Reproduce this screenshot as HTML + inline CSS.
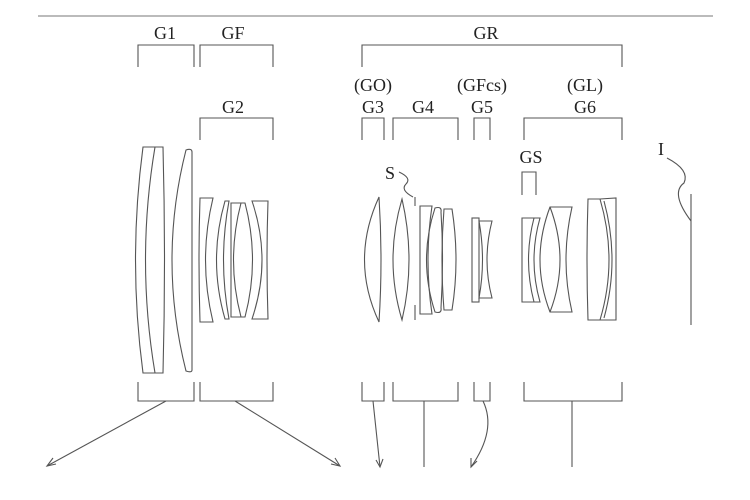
<!DOCTYPE html>
<html><head><meta charset="utf-8"><style>
html,body{margin:0;padding:0;background:#fff;}
svg{display:block}
text{font-family:"Liberation Serif",serif;font-size:18px;fill:#222;text-anchor:middle}
</style></head><body>
<svg width="750" height="500" viewBox="0 0 750 500" xmlns="http://www.w3.org/2000/svg">
<g fill="none" stroke="#555" stroke-width="1.1">
<line x1="38" y1="16" x2="713" y2="16" stroke="#777"/>
<!-- top brackets -->
<polyline points="138,67 138,45 194,45 194,67"/>
<polyline points="200,67 200,45 273,45 273,67"/>
<polyline points="362,67 362,45 622,45 622,67"/>
<polyline points="200,140 200,118 273,118 273,140"/>
<polyline points="362,140 362,118 384,118 384,140"/>
<polyline points="393,140 393,118 458,118 458,140"/>
<polyline points="474,140 474,118 490,118 490,140"/>
<polyline points="524,140 524,118 622,118 622,140"/>
<polyline points="522,195 522,172 536,172 536,195"/>
<!-- bottom brackets -->
<polyline points="138,382 138,401 194,401 194,382"/>
<polyline points="200,382 200,401 273,401 273,382"/>
<polyline points="362,382 362,401 384,401 384,382"/>
<polyline points="393,382 393,401 458,401 458,382"/>
<polyline points="474,382 474,401 490,401 490,382"/>
<polyline points="524,382 524,401 622,401 622,382"/>
<!-- arrows -->
<line x1="166" y1="401" x2="47" y2="466"/>
<polyline points="53,458 47,466 56,464"/>
<line x1="235" y1="401" x2="340" y2="466"/>
<polyline points="331,464 340,466 335,458"/>
<line x1="373" y1="401" x2="380" y2="467"/>
<polyline points="376,460 380,467 383,459"/>
<line x1="424" y1="401" x2="424" y2="467"/>
<path d="M483,401 Q497,430 471,467"/>
<polyline points="471,458 471,467 477,461"/>
<line x1="572" y1="401" x2="572" y2="467"/>
<!-- G1 -->
<path d="M143,147 L155,147 Q136,260 155,373 L143,373 Q128,260 143,147 Z"/>
<path d="M155,147 L163,147 Q166,260 163,373 L155,373"/>
<path d="M186,150 Q192,148 192,152 L192,370 Q192,373 186,371 Q158,260 186,150 Z"/>
<!-- G2 -->
<path d="M200,198 L213,198 Q198,260 213,322 L200,322 Q198,260 200,198 Z"/>
<path d="M225,201 L229,201 Q218,260 229,319 L225,319 Q208,260 225,201 Z"/>
<path d="M231,203 L241,203 Q226,260 241,317 L231,317 Z"/>
<path d="M241,203 L245,203 Q260,260 245,317 L241,317"/>
<path d="M252,201 L268,201 Q266,260 268,319 L252,319 Q272,260 252,201 Z"/>
<!-- G3 -->
<path d="M379,197 Q350,260 379,322 Q383,260 379,197 Z"/>
<!-- G4 -->
<path d="M402,199 Q384,260 402,320 Q416,260 402,199 Z"/>
<line x1="415" y1="197" x2="415" y2="206"/>
<line x1="415" y1="305" x2="415" y2="320"/>
<path d="M420,206 L432,206 Q424,260 432,314 L420,314 Z"/>
<path d="M435,208 Q442,206 441,212 Q444,260 441,308 Q442,314 435,312 Q418,260 435,208 Z"/>
<path d="M444,209 L452,209 Q460,260 452,310 L444,310 Q440,260 444,209 Z"/>
<!-- G5 -->
<rect x="472" y="218" width="7" height="84"/>
<path d="M479,221 L492,221 Q482,260 492,298 L479,298 Q486,260 479,221 Z"/>
<!-- G6 -->
<path d="M522,218 L540,218 Q528,260 540,302 L522,302 Z"/>
<path d="M534,218 Q523,260 534,302"/>
<path d="M550,207 L572,207 Q560,260 572,312 L550,312 Q530,260 550,207 Z"/>
<path d="M550,207 Q570,260 550,312"/>
<path d="M588,199 L600,199 L616,198 L616,320 L600,320 L588,320 Q586,260 588,199 Z"/>
<path d="M600,199 Q618,260 600,320"/>
<path d="M604,201 Q620,260 604,318"/>
<!-- image plane -->
<line x1="691" y1="194" x2="691" y2="325"/>
<path d="M667,158 Q690,170 684,183 Q670,193 691,221"/>
<path d="M399,172 Q412,178 406,184 Q400,190 413,197"/>
</g>
<text x="165" y="39">G1</text>
<text x="233" y="39">GF</text>
<text x="486" y="39">GR</text>
<text x="373" y="91">(GO)</text>
<text x="482" y="91">(GFcs)</text>
<text x="585" y="91">(GL)</text>
<text x="233" y="113">G2</text>
<text x="373" y="113">G3</text>
<text x="423" y="113">G4</text>
<text x="482" y="113">G5</text>
<text x="585" y="113">G6</text>
<text x="531" y="163">GS</text>
<text x="390" y="179">S</text>
<text x="661" y="155">I</text>
</svg>
</body></html>
